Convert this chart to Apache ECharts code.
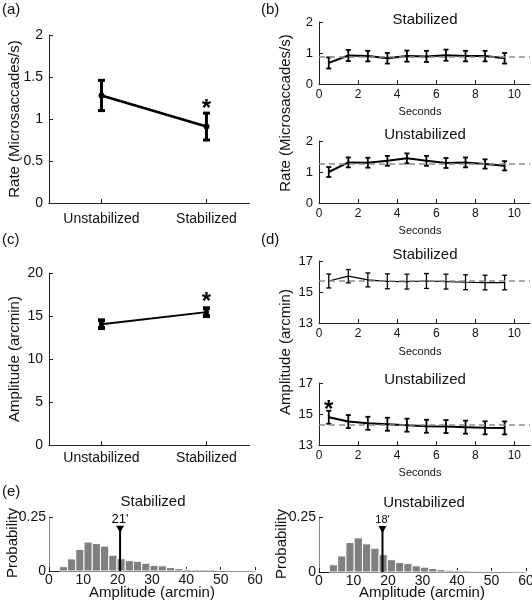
<!DOCTYPE html>
<html><head><meta charset="utf-8">
<script src="https://cdn.jsdelivr.net/npm/echarts@6/dist/echarts.min.js"></script>
<style>html,body{margin:0;padding:0;background:#fff}#c{width:532px;height:600px}</style>
</head><body><div id="c"></div>
<script>
// ---------- data ----------
const conditions = ['Unstabilized', 'Stabilized'];
const conditionX = [1, 2];
const rateMean = [1.28, 0.91];
const rateLow = [1.10, 0.75];
const rateHigh = [1.46, 1.07];
const rateStar = [2, 1.17];
const ampMean = [14.05, 15.45];
const ampLow = [13.6, 15.0];
const ampHigh = [14.5, 15.9];
const ampStar = [2, 17.2];

const seconds = [0.5, 1.5, 2.5, 3.5, 4.5, 5.5, 6.5, 7.5, 8.5, 9.5];
const rateStab = [0.68, 0.92, 0.90, 0.83, 0.90, 0.89, 0.93, 0.90, 0.90, 0.83];
const rateStabErr = [0.18, 0.18, 0.17, 0.17, 0.18, 0.18, 0.18, 0.17, 0.17, 0.17];
const rateStabAvg = 0.87;
const rateUnstab = [1.00, 1.31, 1.30, 1.36, 1.44, 1.36, 1.29, 1.31, 1.26, 1.20];
const rateUnstabErr = [0.16, 0.16, 0.16, 0.16, 0.16, 0.16, 0.16, 0.16, 0.15, 0.15];
const rateUnstabAvg = 1.28;
const ampStab = [15.71, 16.02, 15.78, 15.69, 15.67, 15.71, 15.67, 15.63, 15.61, 15.61];
const ampStabErr = [0.45, 0.43, 0.45, 0.48, 0.48, 0.48, 0.48, 0.48, 0.47, 0.47];
const ampStabAvg = 15.7;
const ampUnstab = [14.79, 14.51, 14.40, 14.34, 14.28, 14.21, 14.19, 14.15, 14.11, 14.10];
const ampUnstabErr = [0.42, 0.42, 0.42, 0.42, 0.42, 0.42, 0.42, 0.42, 0.42, 0.42];
const ampUnstabAvg = 14.3;
const ampUnstabStar = [0.5, 15.58];

const binEdges = [3, 5.4, 7.8, 10.2, 12.6, 15, 17.4, 19.8, 22.2, 24.6, 27, 29.4, 31.8, 34.2, 36.6, 39, 41.4, 43.8, 46.2, 48.6, 51, 53.4, 55.8, 58.2, 60.6];
const histStab = [0.020, 0.056, 0.100, 0.134, 0.127, 0.115, 0.073, 0.057, 0.048, 0.045, 0.036, 0.026, 0.024, 0.016, 0.011, 0.008, 0.006, 0.006, 0.005, 0.003, 0.003, 0.002, 0.002, 0.001];
const histUnstab = [0.033, 0.073, 0.134, 0.155, 0.128, 0.108, 0.079, 0.056, 0.043, 0.038, 0.028, 0.022, 0.016, 0.011, 0.008, 0.006, 0.005, 0.004, 0.003, 0.003, 0.002, 0.002, 0.001, 0.001];
const medianStab = 20.7, medianStabLabel = "21'";
const medianUnstab = 18.4, medianUnstabLabel = "18'";
const markerTop = 0.205;

// ---------- helpers ----------
const FONT = 'Liberation Sans, Arial, sans-serif';
const TXT = '#111';
function grid(l, t, w, h) { return { left: l, top: t, width: w, height: h, containLabel: false, outerBoundsMode: 'none' }; }
function axisCommon(extra) {
  return Object.assign({
    axisLine: { show: true, lineStyle: { color: '#222', width: 1 } },
    axisTick: { show: true, inside: true, length: 4, lineStyle: { color: '#222' } },
    splitLine: { show: false },
    axisLabel: { color: TXT, fontFamily: FONT, fontSize: 12, margin: 5 }
  }, extra);
}
function errRender(cap, lw) {
  return function (params, api) {
    const x = api.value(0), lo = api.value(1), hi = api.value(2);
    const t = api.coord([x, hi]), b = api.coord([x, lo]);
    const st = { stroke: '#000', lineWidth: lw };
    return { type: 'group', children: [
      { type: 'line', shape: { x1: t[0], y1: t[1], x2: b[0], y2: b[1] }, style: st },
      { type: 'line', shape: { x1: t[0] - cap, y1: t[1], x2: t[0] + cap, y2: t[1] }, style: st },
      { type: 'line', shape: { x1: b[0] - cap, y1: b[1], x2: b[0] + cap, y2: b[1] }, style: st }
    ]};
  };
}
function histRender(params, api) {
  const l = api.value(0), r = api.value(1), v = api.value(2);
  const p1 = api.coord([l, v]), p2 = api.coord([r, 0]);
  return { type: 'rect', shape: { x: p1[0], y: p1[1], width: p2[0] - p1[0], height: p2[1] - p1[1] },
    style: { fill: '#808080', stroke: '#fff', lineWidth: 1 } };
}
function medianRender(label, size) {
  return function (params, api) {
    const m = api.value(0), top = api.value(1);
    const a = api.coord([m, 0]), b = api.coord([m, top]);
    return { type: 'group', children: [
      { type: 'line', shape: { x1: a[0], y1: a[1], x2: b[0], y2: b[1] }, style: { stroke: '#000', lineWidth: 2 } },
      { type: 'polygon', shape: { points: [[b[0] - 4, b[1] - 1], [b[0] + 4, b[1] - 1], [b[0], b[1] + 6]] }, style: { fill: '#000' } },
      { type: 'text', x: b[0], y: b[1] - 1, style: { text: label, fontSize: size, fontFamily: FONT, fill: '#000', align: 'center', verticalAlign: 'bottom' } }
    ]};
  };
}
function starRender(params, api) {
  const p = api.coord([api.value(0), api.value(1)]);
  return { type: 'text', x: p[0], y: p[1] + 5, style: { text: '*', fontSize: 24, fontWeight: 'bold', fontFamily: FONT, fill: '#000', align: 'center', verticalAlign: 'middle' } };
}
function starSeries(xi, yi, pt) {
  return { type: 'custom', xAxisIndex: xi, yAxisIndex: yi, data: [pt], silent: true, renderItem: starRender, z: 6 };
}
function timeSeries(idx, mean, err, avg, lw, elw) {
  return [
    { type: 'line', xAxisIndex: idx, yAxisIndex: idx, data: seconds.map((s, i) => [s, mean[i]]), symbol: 'none',
      lineStyle: { color: '#000', width: lw }, silent: true, z: 3,
      markLine: { symbol: 'none', silent: true, label: { show: false }, lineStyle: { type: [6, 4], color: '#8c8c8c', width: 1.5 }, data: [{ yAxis: avg }] } },
    { type: 'custom', xAxisIndex: idx, yAxisIndex: idx, renderItem: errRender(2.5, elw), z: 4,
      data: seconds.map((s, i) => [s, mean[i] - err[i], mean[i] + err[i]]) }
  ];
}
function text(x, y, s, size, opts) {
  return Object.assign({ type: 'text', x: x, y: y, style: Object.assign({ text: s, fontSize: size, fontFamily: FONT, fill: TXT, align: 'center', verticalAlign: 'middle' }, opts || {}) });
}
function vtext(x, y, s, size) {
  return { type: 'text', x: x, y: y, rotation: Math.PI / 2, style: { text: s, fontSize: size, fontFamily: FONT, fill: TXT, align: 'center', verticalAlign: 'middle' } };
}

const catLabel = { customValues: conditionX, formatter: v => conditions[conditionX.indexOf(v)] || '', fontSize: 14, color: TXT, fontFamily: FONT };

const option = {
  animation: false,
  backgroundColor: '#fff',
  grid: [
    grid(49, 35, 200.5, 168),   // a
    grid(49, 273, 200.5, 172),  // c
    grid(319, 22, 211, 62),     // b top
    grid(319, 141, 211, 62),    // b bottom
    grid(319, 261, 211, 62),    // d top
    grid(319, 383, 211, 62),    // d bottom
    grid(49, 517, 206, 54),     // e left
    grid(319, 517, 207, 55)     // e right
  ],
  xAxis: [
    axisCommon({ gridIndex: 0, type: 'value', min: 0.5, max: 2.41, axisLabel: Object.assign({ margin: 9 }, catLabel), axisTick: { show: true, inside: true, length: 4, customValues: conditionX, lineStyle: { color: '#222' } } }),
    axisCommon({ gridIndex: 1, type: 'value', min: 0.5, max: 2.41, axisLabel: Object.assign({ margin: 6 }, catLabel), axisTick: { show: true, inside: true, length: 4, customValues: conditionX, lineStyle: { color: '#222' } } }),
    axisCommon({ gridIndex: 2, type: 'value', min: 0, max: 10.8, interval: 2 }),
    axisCommon({ gridIndex: 3, type: 'value', min: 0, max: 10.8, interval: 2 }),
    axisCommon({ gridIndex: 4, type: 'value', min: 0, max: 10.8, interval: 2 }),
    axisCommon({ gridIndex: 5, type: 'value', min: 0, max: 10.8, interval: 2 }),
    axisCommon({ gridIndex: 6, type: 'value', min: 0, max: 60, interval: 10, axisLabel: { color: TXT, fontFamily: FONT, fontSize: 14, margin: 2 } }),
    axisCommon({ gridIndex: 7, type: 'value', min: 0, max: 60, interval: 10, axisLabel: { color: TXT, fontFamily: FONT, fontSize: 14, margin: 2 } })
  ],
  yAxis: [
    axisCommon({ gridIndex: 0, type: 'value', min: 0, max: 2, interval: 0.5, axisLabel: { color: TXT, fontFamily: FONT, fontSize: 14, margin: 6 } }),
    axisCommon({ gridIndex: 1, type: 'value', min: 0, max: 20, interval: 5, axisLabel: { color: TXT, fontFamily: FONT, fontSize: 14, margin: 6 } }),
    axisCommon({ gridIndex: 2, type: 'value', min: 0, max: 2, interval: 1, axisLabel: { color: TXT, fontFamily: FONT, fontSize: 13, margin: 6 } }),
    axisCommon({ gridIndex: 3, type: 'value', min: 0, max: 2, interval: 1, axisLabel: { color: TXT, fontFamily: FONT, fontSize: 13, margin: 6 } }),
    axisCommon({ gridIndex: 4, type: 'value', min: 13, max: 17, interval: 2, axisLabel: { color: TXT, fontFamily: FONT, fontSize: 13, margin: 6 } }),
    axisCommon({ gridIndex: 5, type: 'value', min: 13, max: 17, interval: 2, axisLabel: { color: TXT, fontFamily: FONT, fontSize: 13, margin: 6 } }),
    axisCommon({ gridIndex: 6, type: 'value', min: 0, max: 0.25, interval: 0.25, axisLine: { show: true, lineStyle: { color: '#888' } }, axisLabel: { color: TXT, fontFamily: FONT, fontSize: 14, margin: 3 } }),
    axisCommon({ gridIndex: 7, type: 'value', min: 0, max: 0.25, interval: 0.25, axisLine: { show: true, lineStyle: { color: '#888' } }, axisLabel: { color: TXT, fontFamily: FONT, fontSize: 14, margin: 3 } })
  ],
  series: [
    // (a)
    { type: 'line', xAxisIndex: 0, yAxisIndex: 0, data: conditionX.map((x, i) => [x, rateMean[i]]), symbol: 'circle', symbolSize: 6,
      itemStyle: { color: '#000' }, lineStyle: { color: '#000', width: 2.5 }, silent: true },
    { type: 'custom', xAxisIndex: 0, yAxisIndex: 0, renderItem: errRender(3.5, 3), data: conditionX.map((x, i) => [x, rateLow[i], rateHigh[i]]) },
    starSeries(0, 0, rateStar),
    // (c)
    { type: 'line', xAxisIndex: 1, yAxisIndex: 1, data: conditionX.map((x, i) => [x, ampMean[i]]), symbol: 'circle', symbolSize: 5,
      itemStyle: { color: '#000' }, lineStyle: { color: '#000', width: 2 }, silent: true },
    { type: 'custom', xAxisIndex: 1, yAxisIndex: 1, renderItem: errRender(3.5, 4), data: conditionX.map((x, i) => [x, ampLow[i], ampHigh[i]]) },
    starSeries(1, 1, ampStar),
    // (b)
    ...timeSeries(2, rateStab, rateStabErr, rateStabAvg, 2, 1.8),
    ...timeSeries(3, rateUnstab, rateUnstabErr, rateUnstabAvg, 2, 1.8),
    // (d)
    ...timeSeries(4, ampStab, ampStabErr, ampStabAvg, 1.2, 1.3),
    ...timeSeries(5, ampUnstab, ampUnstabErr, ampUnstabAvg, 2, 1.8),
    starSeries(5, 5, ampUnstabStar),
    // (e)
    { type: 'custom', xAxisIndex: 6, yAxisIndex: 6, renderItem: histRender, data: histStab.map((v, i) => [binEdges[i], binEdges[i + 1], v]) },
    { type: 'custom', xAxisIndex: 6, yAxisIndex: 6, renderItem: medianRender(medianStabLabel, 13), data: [[medianStab, markerTop]], z: 5 },
    { type: 'custom', xAxisIndex: 7, yAxisIndex: 7, renderItem: histRender, data: histUnstab.map((v, i) => [binEdges[i], binEdges[i + 1], v]) },
    { type: 'custom', xAxisIndex: 7, yAxisIndex: 7, renderItem: medianRender(medianUnstabLabel, 11), data: [[medianUnstab, markerTop]], z: 5 }
  ],
  graphic: [
    text(2, 10, '(a)', 15, { align: 'left' }),
    text(261, 10, '(b)', 15, { align: 'left' }),
    text(2, 240, '(c)', 15, { align: 'left' }),
    text(261, 240, '(d)', 15, { align: 'left' }),
    text(2, 492, '(e)', 15, { align: 'left' }),
    text(425, 20, 'Stabilized', 15),
    text(425, 135, 'Unstabilized', 15),
    text(425, 255, 'Stabilized', 15),
    text(425, 380, 'Unstabilized', 15),
    text(153, 502, 'Stabilized', 15),
    text(424, 503, 'Unstabilized', 15),
    text(420, 112, 'Seconds', 11),
    text(420, 231, 'Seconds', 11),
    text(420, 352, 'Seconds', 11),
    text(420, 473, 'Seconds', 11),
    text(152, 593, 'Amplitude (arcmin)', 15),
    text(422, 593, 'Amplitude (arcmin)', 15),
    vtext(15, 119, 'Rate (Microsaccades/s)', 15),
    vtext(15, 359, 'Amplitude (arcmin)', 15),
    vtext(286, 113, 'Rate (Microsaccades/s)', 15),
    vtext(286, 352, 'Amplitude (arcmin)', 15),
    vtext(13, 543, 'Probability', 15),
    vtext(282, 544, 'Probability', 15)
  ]
};
const chart = echarts.init(document.getElementById('c'), null, { renderer: 'canvas' });
chart.setOption(option);
</script></body></html>
